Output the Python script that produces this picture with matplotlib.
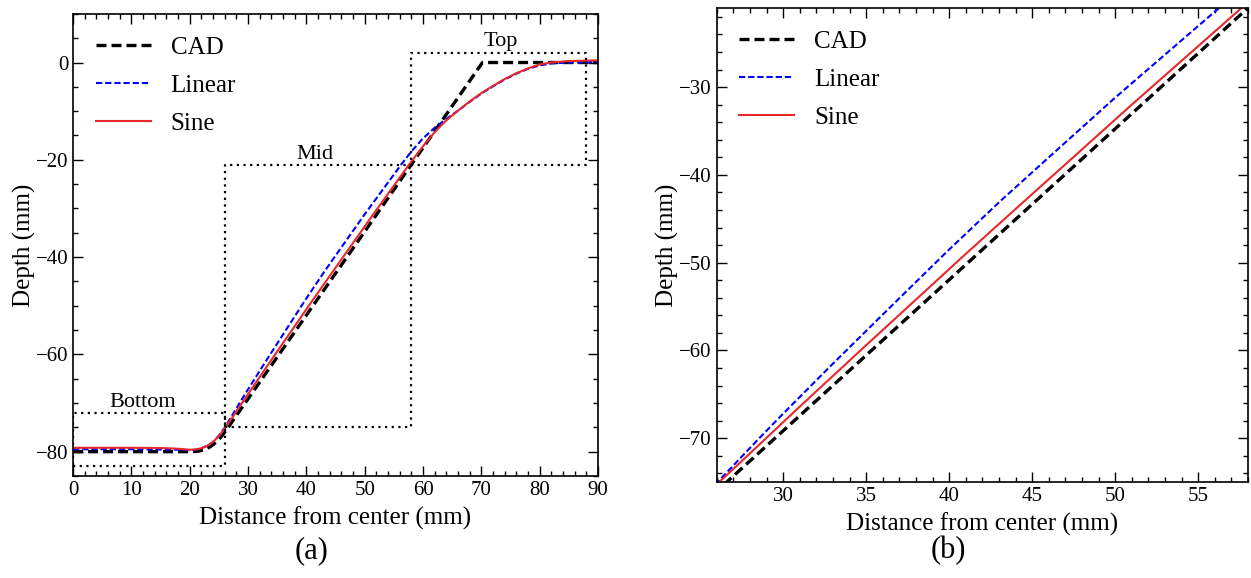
import matplotlib
matplotlib.use('Agg')
import matplotlib.pyplot as plt
from matplotlib.ticker import MultipleLocator

plt.rcParams['font.family'] = ['Liberation Serif', 'DejaVu Serif']
plt.rcParams['mathtext.fontset'] = 'stix'

# profiles (distance mm, depth mm)
cad_x = [0, 20.5, 21.5, 22.5, 23.5, 24.5, 25.5, 26.6, 70.2, 90]
cad_y = [-80, -80, -79.9, -79.6, -79.0, -78.1, -76.8, -75.0, 0, 0]

lin_x = [0, 10, 18, 20, 21, 22, 23, 24, 25, 26.05, 27, 28.56, 30, 33, 37.08, 40,
         43.13, 47, 50, 53, 56.25, 58, 60, 62, 64, 66, 68, 70, 72, 74, 76, 78,
         80, 82, 85, 90]
lin_y = [-79.5, -79.5, -79.6, -79.7, -79.6, -79.3, -78.8, -78.0, -76.7, -75.0,
         -73.1, -70.0, -67.2, -61.5, -53.9, -48.5, -42.9, -36.3, -31.2, -26.3,
         -21.0, -18.3, -15.6, -13.4, -11.6, -9.9, -8.1, -6.4, -4.9, -3.5, -2.3,
         -1.3, -0.6, -0.2, 0.0, 0.1]

sin_x = [0, 5, 10, 15, 18, 20, 21, 22, 23, 24, 25, 26.14, 27, 28.97, 31, 33, 35,
         37.08, 41, 44.58, 48, 51, 54, 57.6, 60, 62, 64, 66, 68, 70, 72, 74, 76,
         78, 80, 82, 85, 90]
sin_y = [-79.2, -79.2, -79.2, -79.25, -79.4, -79.6, -79.55, -79.3, -78.8, -78.0,
         -76.8, -75.0, -73.5, -70.0, -66.4, -62.9, -59.4, -55.8, -49.0, -42.9,
         -37.1, -32.0, -27.0, -21.0, -17.2, -14.3, -11.9, -9.9, -8.0, -6.3, -4.8,
         -3.4, -2.2, -1.2, -0.4, 0.0, 0.3, 0.45]

# regions: name, x0, x1, y0, y1
regions = ['Bottom', 'Mid', 'Top']
reg_x0 = [0, 26, 58]
reg_x1 = [26, 58, 88]
reg_y0 = [-83, -75, -21]
reg_y1 = [-72, -21, 2]


def draw_curves(ax):
    ax.plot(cad_x, cad_y, color='black', ls=(0, (3, 1.5)), lw=2.4, label='CAD')
    ax.plot(lin_x, lin_y, color='blue', ls=(0, (3, 1.4)), lw=1.5, label='Linear')
    ax.plot(sin_x, sin_y, color='#e8282b', ls='-', lw=1.5, label='Sine')
    ax.legend(loc='upper left', frameon=False, fontsize=18, handlelength=2.2,
              labelspacing=0.62, borderaxespad=0.5, handletextpad=0.8)


def style(ax):
    ax.tick_params(which='both', direction='in', top=True, right=True, labelsize=15)
    ax.tick_params(which='major', length=7, width=1)
    ax.tick_params(which='minor', length=3.5, width=1)
    ax.set_xlabel('Distance from center (mm)', fontsize=18, labelpad=5)
    ax.set_ylabel('Depth (mm)', fontsize=18, labelpad=0)
    for s in ax.spines.values():
        s.set_linewidth(1.2)


fig = plt.figure(figsize=(12.51, 5.78), dpi=100)

ax1 = fig.add_axes([0.0584, 0.1765, 0.4196, 0.7995])
draw_curves(ax1)
for name, x0, x1, y0, y1 in zip(regions, reg_x0, reg_x1, reg_y0, reg_y1):
    ax1.plot([x0, x1, x1, x0, x0], [y0, y0, y1, y1, y0], color='black',
             ls=(0, (1, 2)), lw=1.6)
ax1.text(11.9, -71.9, 'Bottom', ha='center', va='bottom', fontsize=16)
ax1.text(41.4, -20.8, 'Mid', ha='center', va='bottom', fontsize=16)
ax1.text(73.4, 2.4, 'Top', ha='center', va='bottom', fontsize=16)
ax1.set_xlim(0, 90)
ax1.set_ylim(-85, 10)
ax1.xaxis.set_major_locator(MultipleLocator(10))
ax1.xaxis.set_minor_locator(MultipleLocator(2))
ax1.yaxis.set_major_locator(MultipleLocator(20))
ax1.yaxis.set_minor_locator(MultipleLocator(5))
style(ax1)

ax2 = fig.add_axes([0.573, 0.166, 0.4246, 0.820])
draw_curves(ax2)
ax2.set_xlim(reg_x0[1], reg_x1[1])
ax2.set_ylim(reg_y0[1], reg_y1[1])
ax2.xaxis.set_major_locator(MultipleLocator(5))
ax2.xaxis.set_minor_locator(MultipleLocator(1))
ax2.yaxis.set_major_locator(MultipleLocator(10))
ax2.yaxis.set_minor_locator(MultipleLocator(2))
style(ax2)

fig.text(312 / 1251, 1 - 551 / 578, '(a)', ha='center', va='center', fontsize=22)
fig.text(948 / 1251, 1 - 551 / 578, '(b)', ha='center', va='center', fontsize=22)

fig.savefig('out.png', dpi=100)
